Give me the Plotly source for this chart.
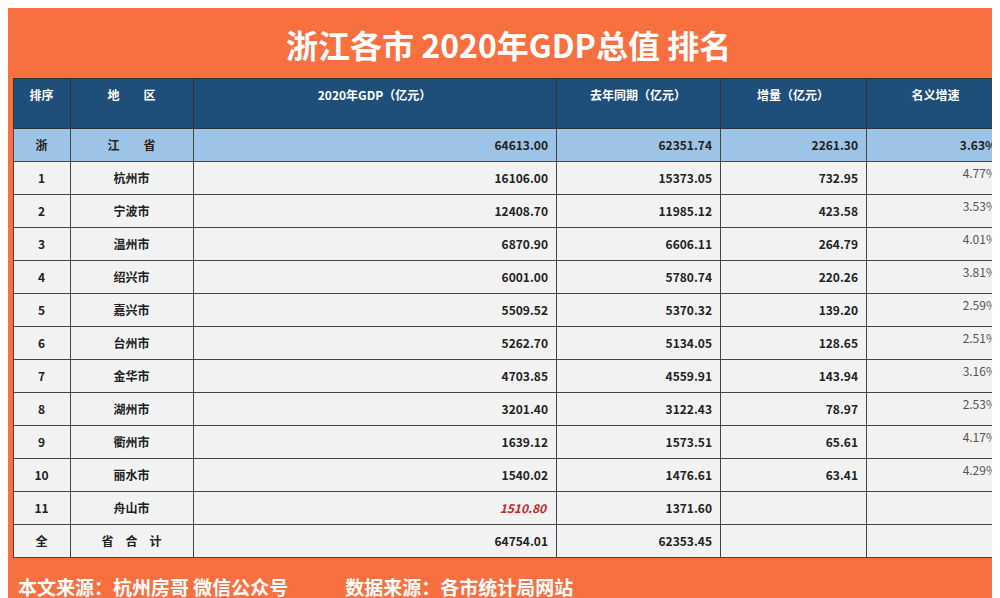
import plotly.graph_objects as go

ranks = ["浙", "1", "2", "3", "4", "5", "6", "7", "8", "9", "10", "11", "全"]
regions = ["江　　省", "杭州市", "宁波市", "温州市", "绍兴市", "嘉兴市", "台州市", "金华市",
           "湖州市", "衢州市", "丽水市", "舟山市", "省　合　计"]
gdp_2020 = ["64613.00", "16106.00", "12408.70", "6870.90", "6001.00", "5509.52", "5262.70",
            "4703.85", "3201.40", "1639.12", "1540.02", "1510.80", "64754.01"]
gdp_2019 = ["62351.74", "15373.05", "11985.12", "6606.11", "5780.74", "5370.32", "5134.05",
            "4559.91", "3122.43", "1573.51", "1476.61", "1371.60", "62353.45"]
increase = ["2261.30", "732.95", "423.58", "264.79", "220.26", "139.20", "128.65", "143.94",
            "78.97", "65.61", "63.41", "", ""]
growth = ["3.63%", "4.77%", "3.53%", "4.01%", "3.81%", "2.59%", "2.51%", "3.16%", "2.53%",
          "4.17%", "4.29%", "", ""]
headers = ["排序", "地　　区", "2020年GDP（亿元）", "去年同期（亿元）", "增量（亿元）", "名义增速"]

n = len(ranks)
b = lambda xs: [f"<b>{x}</b>" if x else "" for x in xs]
gdp_text = [f"<b><i>{v}</i></b>" if i == 11 else f"<b>{v}</b>" for i, v in enumerate(gdp_2020)]
growth_text = [f"<b>{v}</b>" if i == 0 else v for i, v in enumerate(growth)]

row_fill = ["#9DC3E6"] + ["#F2F2F2"] * (n - 1)
gdp_color = ["#222222"] * n
gdp_color[11] = "#C0282D"
growth_color = ["#222222"] + ["#555555"] * (n - 1)

fig = go.Figure(go.Table(
    domain=dict(x=[0.005, 0.997], y=[1 - 556 / 598, 1 - 70 / 598]),
    columnwidth=[57, 123, 363, 164, 146, 139],
    header=dict(
        values=[f"<b>{h}</b>" for h in headers],
        fill_color="#1F4E79",
        line_color="#333333",
        align="center",
        height=50,
        font=dict(family="Noto Sans CJK SC", size=12, color="white"),
    ),
    cells=dict(
        values=[b(ranks), b(regions), gdp_text, b(gdp_2019), b(increase), growth_text],
        fill_color=[row_fill] * 6,
        line_color="#444444",
        align=["center", "center", "right", "right", "right", "right"],
        height=29,
        font=dict(family="Noto Sans CJK SC", size=12,
                  color=[["#222222"] * n, ["#222222"] * n, gdp_color,
                         ["#222222"] * n, ["#222222"] * n, growth_color]),
    ),
))

fig.add_annotation(x=0.5, y=1 - 36 / 598, xref="paper", yref="paper", yanchor="middle",
                   showarrow=False, text="<b>浙江各市 2020年GDP总值 排名</b>",
                   font=dict(family="Noto Sans CJK SC", size=32, color="white"))
fig.add_annotation(x=0.008, y=1 - 578 / 598, xref="paper", yref="paper", xanchor="left",
                   yanchor="middle", showarrow=False,
                   text="<b>本文来源：杭州房哥 微信公众号　　　数据来源：各市统计局网站</b>",
                   font=dict(family="Noto Sans CJK SC", size=19, color="white"))

fig.update_layout(width=1000, height=598, margin=dict(l=0, r=0, t=0, b=0),
                  paper_bgcolor="#F97040")
fig.write_html("out.html")
